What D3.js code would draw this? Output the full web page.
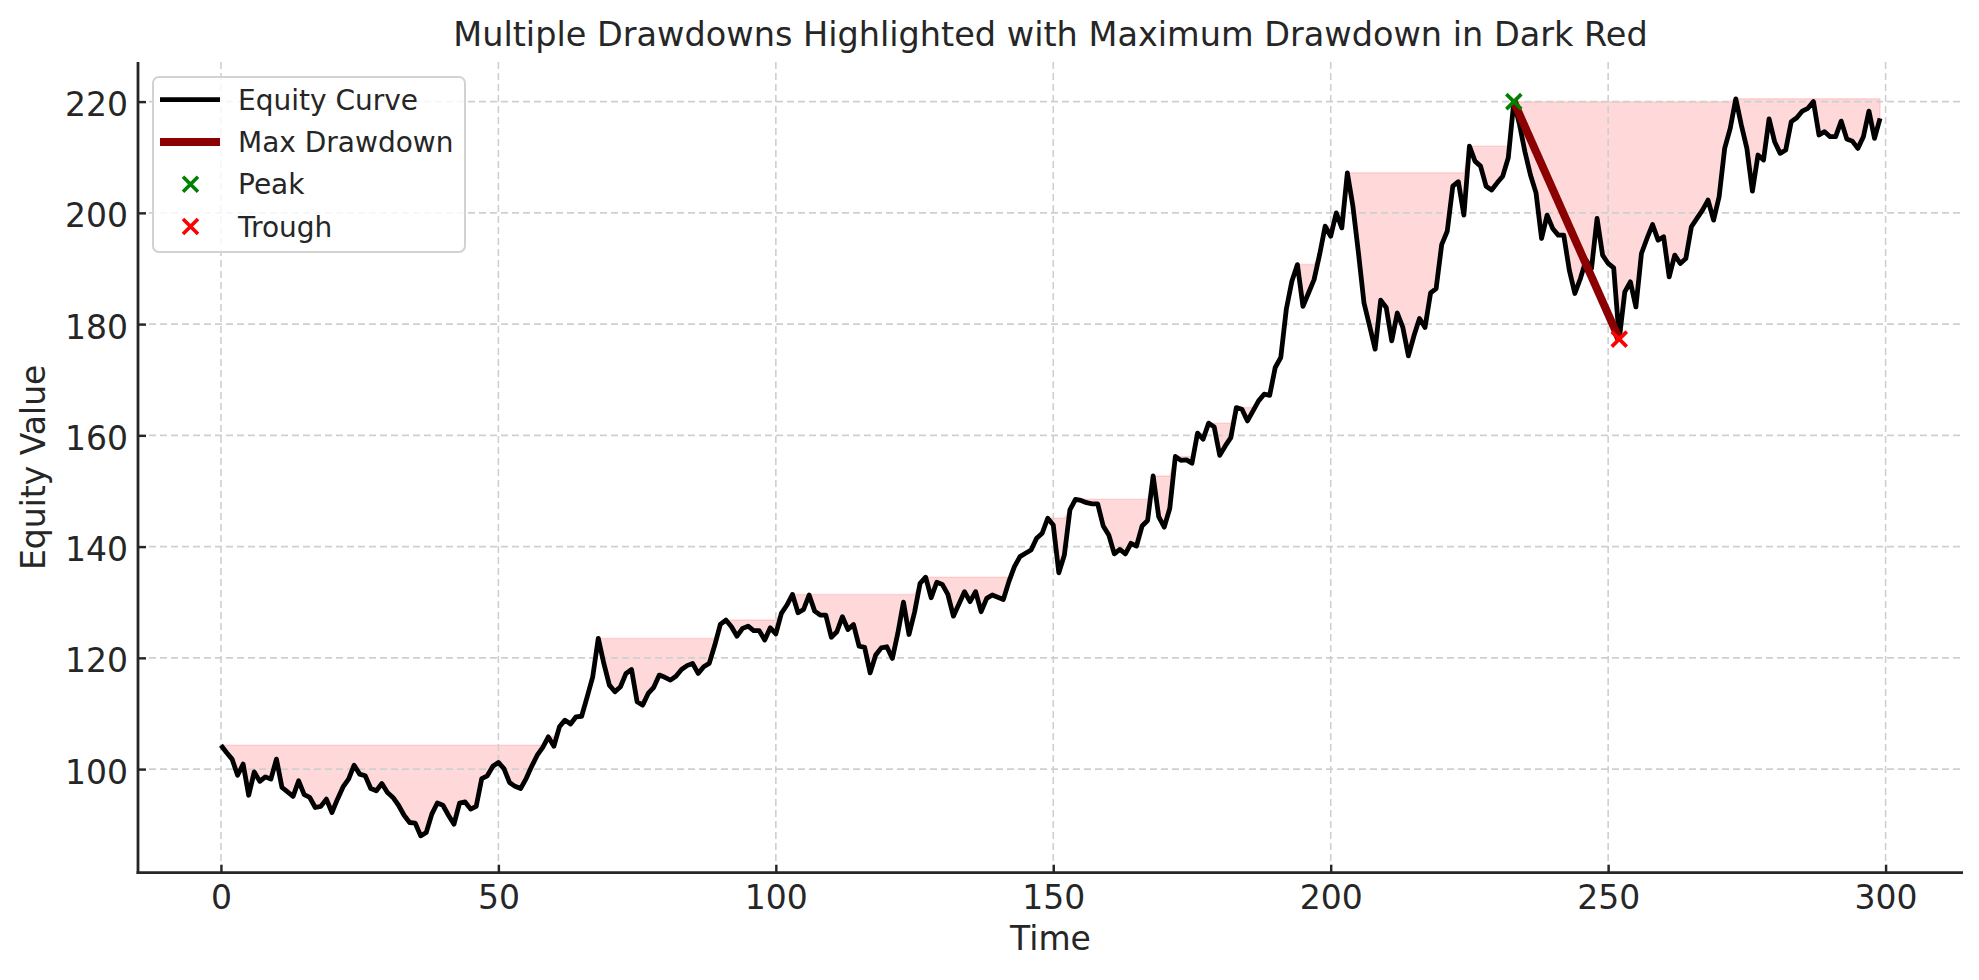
<!DOCTYPE html>
<html>
<head>
<meta charset="utf-8">
<script src="https://cdn.jsdelivr.net/npm/d3@7"></script>
<style>
  html, body { margin: 0; padding: 0; background: #ffffff; }
  svg { display: block; font-family: "DejaVu Sans", sans-serif; }
</style>
</head>
<body>
<svg id="chart" width="1979" height="980"></svg>
<script>
// ---------------- DATA ----------------
const titleText = "Multiple Drawdowns Highlighted with Maximum Drawdown in Dark Red";
const xLabelText = "Time";
const yLabelText = "Equity Value";
const xTicks = [0, 50, 100, 150, 200, 250, 300];
const yTicks = [100, 120, 140, 160, 180, 200, 220];
const legendLabels = ["Equity Curve", "Max Drawdown", "Peak", "Trough"];

// Equity value for each time step 0..299
const equity = [
  104.3, 103.0, 101.8, 98.9, 100.9, 95.3, 99.5, 97.8, 98.6, 98.2,
  101.8, 96.7, 95.9, 95.1, 97.9, 95.4, 94.9, 93.1, 93.3, 94.6,
  92.2, 94.6, 96.8, 98.2, 100.7, 99.1, 98.8, 96.5, 96.1, 97.4,
  95.8, 94.9, 93.5, 91.7, 90.4, 90.3, 88.0, 88.6, 91.9, 93.9,
  93.5, 91.7, 90.1, 93.9, 94.1, 92.8, 93.3, 98.3, 98.8, 100.5,
  101.2, 100.1, 97.6, 96.9, 96.5, 98.3, 100.5, 102.5, 103.9, 105.8,
  104.1, 107.6, 108.8, 108.1, 109.4, 109.5, 113.0, 116.6, 123.5, 119.0,
  115.1, 113.9, 114.8, 117.2, 117.9, 112.1, 111.5, 113.6, 114.7, 116.9,
  116.5, 116.0, 116.7, 117.9, 118.6, 119.0, 117.2, 118.4, 119.0, 122.3,
  126.0, 126.8, 125.6, 123.9, 125.3, 125.7, 124.9, 124.9, 123.2, 125.4,
  124.3, 128.0, 129.5, 131.4, 128.1, 128.7, 131.3, 128.4, 127.7, 127.7,
  123.7, 124.7, 127.4, 125.1, 126.0, 122.1, 121.9, 117.3, 120.5, 121.8,
  122.0, 119.9, 124.5, 130.0, 124.2, 128.2, 133.4, 134.5, 130.8, 133.6,
  133.2, 131.4, 127.5, 129.7, 131.9, 130.1, 131.9, 128.3, 130.7, 131.3,
  130.9, 130.5, 133.7, 136.4, 138.2, 138.8, 139.4, 141.5, 142.4, 145.1,
  143.9, 135.3, 138.5, 146.6, 148.5, 148.3, 147.9, 147.7, 147.7, 143.7,
  142.1, 138.7, 139.5, 138.7, 140.6, 140.1, 143.7, 144.7, 152.7, 145.4,
  143.5, 146.9, 156.2, 155.5, 155.6, 155.0, 160.4, 159.3, 162.2, 161.5,
  156.4, 158.1, 159.6, 165.0, 164.7, 162.6, 164.4, 166.2, 167.4, 167.2,
  172.2, 174.0, 182.7, 187.7, 190.7, 183.2, 185.6, 188.0, 192.5, 197.6,
  195.8, 200.0, 197.3, 207.2, 201.2, 192.8, 183.8, 179.7, 175.5, 184.3,
  183.0, 177.0, 182.0, 179.4, 174.3, 177.9, 181.0, 179.4, 185.6, 186.4,
  194.3, 196.7, 204.8, 205.6, 199.6, 212.0, 209.3, 208.4, 204.8, 204.1,
  205.4, 206.6, 209.9, 220.0, 216.0, 211.0, 206.8, 203.6, 195.4, 199.6,
  197.2, 196.0, 196.0, 189.7, 185.5, 188.2, 191.5, 190.0, 199.0, 192.4,
  190.9, 190.1, 177.3, 185.8, 187.6, 183.1, 192.7, 195.4, 197.9, 195.1,
  195.7, 188.5, 192.4, 190.9, 191.8, 197.5, 199.0, 200.5, 202.3, 198.7,
  202.9, 211.6, 215.2, 220.5, 215.8, 211.6, 203.9, 210.4, 209.5, 216.9,
  212.8, 210.7, 211.3, 216.4, 217.1, 218.3, 218.8, 220.0, 214.0, 214.6,
  213.7, 213.7, 216.5, 213.3, 212.9, 211.6, 213.7, 218.3, 213.4, 217.0
];

// Max drawdown endpoints: [time, value]
const peak = [233, 220.0];
const trough = [252, 177.3];

// ---------------- LAYOUT ----------------
const plot = { left: 138, right: 1963, top: 62, bottom: 872.7 };
const textColor = "#262626";

const svg = d3.select("#chart");

const n = equity.length;
const series = equity.map((v, i) => ({ t: i, v: v }));
// running maximum (peak level) for drawdown shading
let runMax = -Infinity;
const shaded = series.map(d => { runMax = Math.max(runMax, d.v); return { t: d.t, v: d.v, m: runMax }; });

const xMin = 0, xMax = n - 1;
const xPad = (xMax - xMin) * 0.05;
const yMinV = d3.min(equity), yMaxV = d3.max(equity);
const yPad = (yMaxV - yMinV) * 0.05;

const x = d3.scaleLinear().domain([xMin - xPad, xMax + xPad]).range([plot.left, plot.right]);
const y = d3.scaleLinear().domain([yMinV - yPad, yMaxV + yPad]).range([plot.bottom, plot.top]);

// ---- drawdown fill ----
const area = d3.area().x(d => x(d.t)).y0(d => y(d.v)).y1(d => y(d.m));
svg.append("path")
  .datum(shaded)
  .attr("d", area)
  .attr("fill", "rgba(255,0,0,0.15)")
  .attr("stroke", "rgba(255,0,0,0.12)")
  .attr("stroke-width", 1.5);

// ---- grid ----
const grid = svg.append("g").attr("class", "grid");
grid.selectAll("line.vx").data(xTicks).enter().append("line")
  .attr("x1", d => x(d)).attr("x2", d => x(d))
  .attr("y1", plot.top).attr("y2", plot.bottom)
  .attr("stroke", "#cfcfcf").attr("stroke-width", 1.6).attr("stroke-dasharray", "7,4");
grid.selectAll("line.hy").data(yTicks).enter().append("line")
  .attr("y1", d => y(d)).attr("y2", d => y(d))
  .attr("x1", plot.left).attr("x2", plot.right)
  .attr("stroke", "#cfcfcf").attr("stroke-width", 1.6).attr("stroke-dasharray", "7,4");

// ---- equity line ----
const line = d3.line().x(d => x(d.t)).y(d => y(d.v));
svg.append("path")
  .datum(series)
  .attr("d", line)
  .attr("fill", "none")
  .attr("stroke", "#000000")
  .attr("stroke-width", 4.8)
  .attr("stroke-linejoin", "round")
  .attr("stroke-linecap", "butt");

// ---- max drawdown line ----
svg.append("line")
  .attr("x1", x(peak[0])).attr("y1", y(peak[1]))
  .attr("x2", x(trough[0])).attr("y2", y(trough[1]))
  .attr("stroke", "#8b0000").attr("stroke-width", 8);

// ---- x markers ----
function xMarker(g, cx, cy, color, h) {
  g.append("path")
    .attr("d", `M${cx - h},${cy - h}L${cx + h},${cy + h}M${cx - h},${cy + h}L${cx + h},${cy - h}`)
    .attr("stroke", color).attr("stroke-width", 3.6).attr("fill", "none");
}
xMarker(svg, x(peak[0]), y(peak[1]), "#008000", 7.5);
xMarker(svg, x(trough[0]), y(trough[1]), "#ff0000", 7.5);

// ---- axes ----
const xAxis = d3.axisBottom(x).tickValues(xTicks).tickSize(-8).tickPadding(0).tickFormat(d3.format("d"));
const yAxis = d3.axisLeft(y).tickValues(yTicks).tickSize(-8).tickPadding(0).tickFormat(d3.format("d"));

const gx = svg.append("g").attr("transform", `translate(0,${plot.bottom})`).call(xAxis);
const gy = svg.append("g").attr("transform", `translate(${plot.left},0)`).call(yAxis);

[gx, gy].forEach(g => {
  g.select(".domain").remove();
  g.selectAll(".tick line").attr("stroke", textColor).attr("stroke-width", 2.4);
  g.selectAll(".tick text").attr("fill", textColor).attr("font-size", 33)
    .attr("font-family", "DejaVu Sans");
});
gx.selectAll(".tick text").attr("dy", null).attr("y", 36.3);
gy.selectAll(".tick text").attr("dy", null).attr("x", -10).attr("y", 14);

// spines
svg.append("line").attr("x1", plot.left).attr("x2", plot.left)
  .attr("y1", plot.top).attr("y2", plot.bottom + 1.4)
  .attr("stroke", textColor).attr("stroke-width", 2.8);
svg.append("line").attr("x1", plot.left - 1.4).attr("x2", plot.right)
  .attr("y1", plot.bottom).attr("y2", plot.bottom)
  .attr("stroke", textColor).attr("stroke-width", 2.8);

// ---- labels ----
svg.append("text")
  .attr("x", (plot.left + plot.right) / 2).attr("y", 46)
  .attr("text-anchor", "middle").attr("font-size", 33.5).attr("fill", textColor)
  .text(titleText);
svg.append("text")
  .attr("x", (plot.left + plot.right) / 2).attr("y", 950)
  .attr("text-anchor", "middle").attr("font-size", 33).attr("fill", textColor)
  .text(xLabelText);
svg.append("text")
  .attr("transform", `translate(45,${(plot.top + plot.bottom) / 2}) rotate(-90)`)
  .attr("text-anchor", "middle").attr("font-size", 33).attr("fill", textColor)
  .text(yLabelText);

// ---- legend ----
const lg = svg.append("g");
lg.append("rect")
  .attr("x", 153).attr("y", 77).attr("width", 312).attr("height", 175)
  .attr("rx", 6).attr("ry", 6)
  .attr("fill", "rgba(255,255,255,0.8)")
  .attr("stroke", "#d2d2d2").attr("stroke-width", 2);
const rowY = [99.7, 142, 184.3, 226.6];
const hx0 = 160, hx1 = 220, hxc = 190.5;
lg.append("line").attr("x1", hx0).attr("x2", hx1).attr("y1", rowY[0]).attr("y2", rowY[0])
  .attr("stroke", "#000").attr("stroke-width", 4.8);
lg.append("line").attr("x1", hx0).attr("x2", hx1).attr("y1", rowY[1]).attr("y2", rowY[1])
  .attr("stroke", "#8b0000").attr("stroke-width", 8);
xMarker(lg, hxc, rowY[2], "#008000", 7.5);
xMarker(lg, hxc, rowY[3], "#ff0000", 7.5);
lg.selectAll("text.leg").data(legendLabels).enter().append("text")
  .attr("x", 238).attr("y", (d, i) => rowY[i] + 10)
  .attr("font-size", 28).attr("fill", textColor)
  .text(d => d);
</script>
</body>
</html>
